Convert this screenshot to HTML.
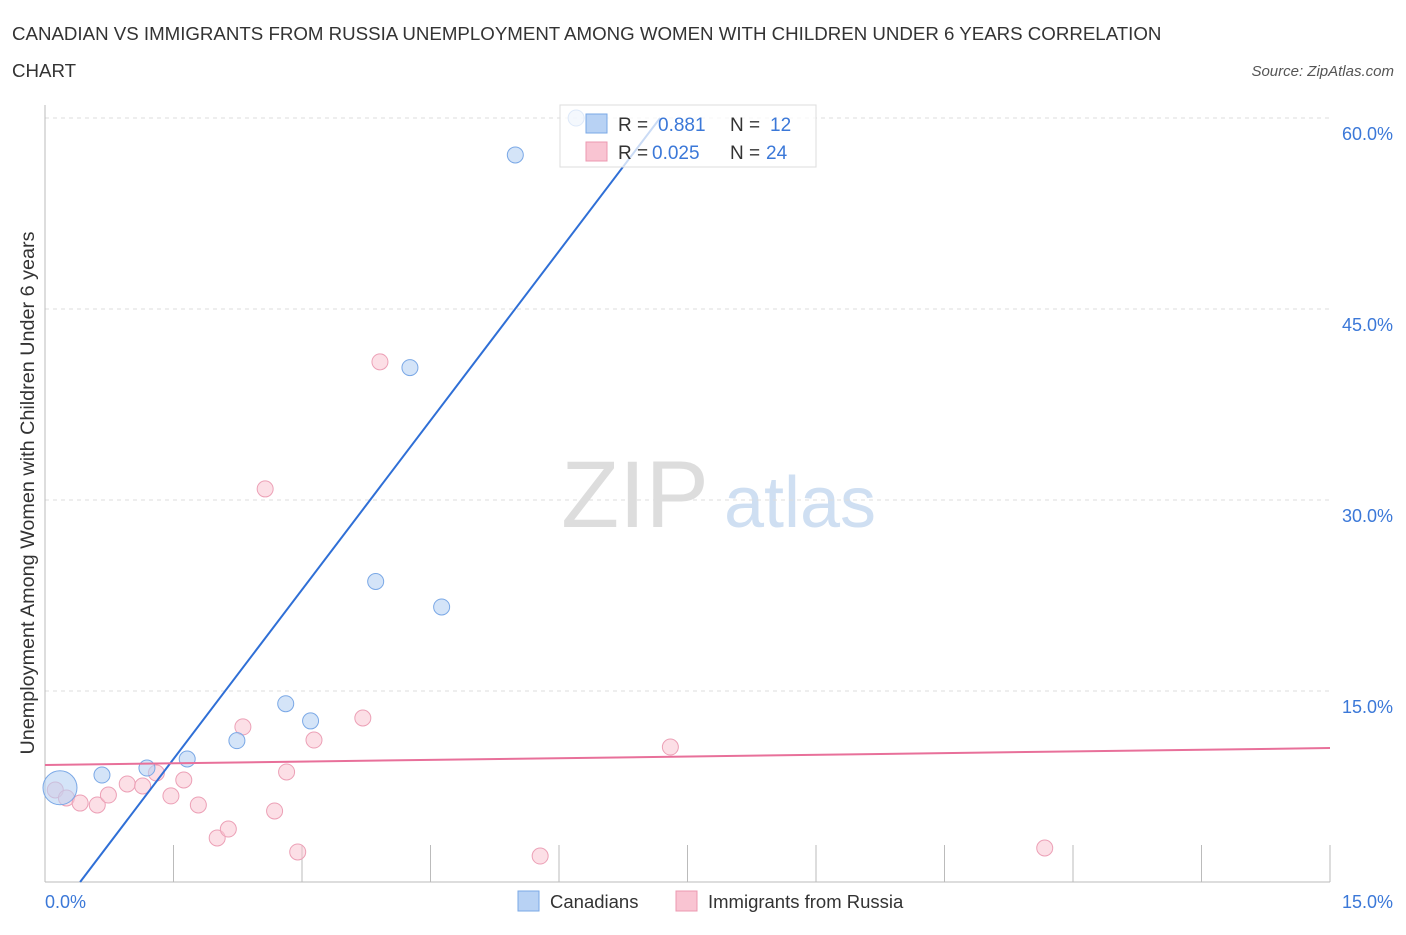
<!DOCTYPE html>
<html><head><meta charset="utf-8"><style>
body{margin:0;background:#fff;font-family:"Liberation Sans",sans-serif;}
svg text{font-family:"Liberation Sans",sans-serif;}
</style></head><body>
<svg id="chart" width="1406" height="930" xmlns="http://www.w3.org/2000/svg">
<text x="12" y="40" font-size="18.7" fill="#333">CANADIAN VS IMMIGRANTS FROM RUSSIA UNEMPLOYMENT AMONG WOMEN WITH CHILDREN UNDER 6 YEARS CORRELATION</text>
<text x="12" y="77" font-size="18.7" fill="#333">CHART</text>
<text x="1394" y="76" font-size="15" fill="#555" text-anchor="end" font-style="italic">Source: ZipAtlas.com</text>
<text x="635" y="527" font-size="95" fill="#ddd" font-family="Liberation Serif" text-anchor="middle">ZIP</text>
<text x="800" y="527" font-size="72" fill="#cfdff2" text-anchor="middle">atlas</text>
<text transform="translate(34,493) rotate(-90)" font-size="19.8" fill="#333" text-anchor="middle">Unemployment Among Women with Children Under 6 years</text>
<g id="grid"></g><g id="marks"></g>
<g>
<rect x="560" y="105" width="256" height="62" fill="rgba(255,255,255,0.75)" stroke="#ddd"/>
<rect x="586" y="114" width="21" height="19" fill="#b8d2f4" stroke="#7aa8e6"/>
<rect x="586" y="142" width="21" height="19" fill="#f9c4d2" stroke="#ec98b0"/>
<text x="618" y="131" font-size="19" fill="#333">R =</text>
<text x="658" y="131" font-size="19" fill="#3b78d8">0.881</text>
<text x="730" y="131" font-size="19" fill="#333">N =</text>
<text x="770" y="131" font-size="19" fill="#3b78d8">12</text>
<text x="618" y="159" font-size="19" fill="#333">R =</text>
<text x="652" y="159" font-size="19" fill="#3b78d8">0.025</text>
<text x="730" y="159" font-size="19" fill="#333">N =</text>
<text x="766" y="159" font-size="19" fill="#3b78d8">24</text>
</g>
<g>
<rect x="518" y="891" width="21" height="20" fill="#b8d2f4" stroke="#7aa8e6"/>
<text x="550" y="908" font-size="18.5" fill="#333">Canadians</text>
<rect x="676" y="891" width="21" height="20" fill="#f9c4d2" stroke="#ec98b0"/>
<text x="708" y="908" font-size="18.5" fill="#333">Immigrants from Russia</text>
</g>
</svg>
<script>
const canX=[0.175,0.665,1.19,1.66,2.24,2.81,3.1,3.86,4.26,4.63,5.49,6.2];
const canY=[7.4,8.4,8.95,9.66,11.1,14.0,12.65,23.6,40.4,21.6,57.1,60.0];
const canR=[18,9,9,9,9,9,9,9,9,9,9,9];
const rusX=[0.12,0.25,0.41,0.61,0.74,0.96,1.14,1.30,1.47,1.62,1.79,2.01,2.14,2.31,2.57,2.68,2.82,2.95,3.14,3.71,3.91,5.78,7.30,11.67];
const rusY=[7.23,6.6,6.2,6.05,6.83,7.7,7.54,8.56,6.76,8.01,6.05,3.46,4.16,12.18,30.87,5.58,8.64,2.36,11.15,12.88,40.85,2.04,10.6,2.67];
const canTrend=[[0.41,0],[7.18,60]];
const rusTrend=[[0,9.19],[15,10.52]];
const yTicks=[15,30,45,60];
const yTickLabels=["15.0%","30.0%","45.0%","60.0%"];
const xTicks=[1.5,3,4.5,6,7.5,9,10.5,12,13.5,15];
const NS="http://www.w3.org/2000/svg";
const sx=v=>45+v*(1285/15), sy=v=>882-v*12.733;
const g=document.getElementById('grid'), m=document.getElementById('marks');
function mk(tag,a,p){const e=document.createElementNS(NS,tag);for(const k in a)e.setAttribute(k,a[k]);p.appendChild(e);return e;}
yTicks.forEach((t,i)=>{
 const l=mk('line',{x1:45,x2:1330,y1:sy(t),y2:sy(t),stroke:'#ddd','stroke-dasharray':'4,4'},g);
 
 
 const tx=mk('text',{x:1393,y:sy(t)+22,'font-size':18,fill:'#3b78d8','text-anchor':'end'},g);
 tx.textContent=yTickLabels[i];
 
 
});
xTicks.forEach(t=>{
 const l=mk('line',{x1:sx(t),x2:sx(t),y1:845,y2:882,stroke:'#bbb'},g);
 
 
});
const ax=mk('line',{x1:45,x2:45,y1:105,y2:882,stroke:'#bbb'},g);


const bx=mk('line',{x1:45,x2:1330,y1:882,y2:882,stroke:'#bbb'},g);


const x0=mk('text',{x:45,y:908,'font-size':18,fill:'#3b78d8'},g);x0.textContent='0.0%';


const x1=mk('text',{x:1393,y:908,'font-size':18,fill:'#3b78d8','text-anchor':'end'},g);x1.textContent='15.0%';


rusX.forEach((x,i)=>{
 const c=mk('circle',{cx:sx(x),cy:sy(rusY[i]),r:8,fill:'rgba(249,196,210,0.55)',stroke:'#eca0b6'},m);
 
 
});
canX.forEach((x,i)=>{
 const c=mk('circle',{cx:sx(x),cy:sy(canY[i]),r:canR[i]-1,fill:'rgba(184,210,244,0.6)',stroke:'#7aa8e6'},m);
 
 
});
const t1=mk('line',{x1:sx(canTrend[0][0]),y1:sy(canTrend[0][1]),x2:sx(canTrend[1][0]),y2:sy(canTrend[1][1]),stroke:'#2f6fd6','stroke-width':2},m);


const t2=mk('line',{x1:sx(rusTrend[0][0]),y1:sy(rusTrend[0][1]),x2:sx(rusTrend[1][0]),y2:sy(rusTrend[1][1]),stroke:'#e8709a','stroke-width':2},m);


</script>
</body></html>
